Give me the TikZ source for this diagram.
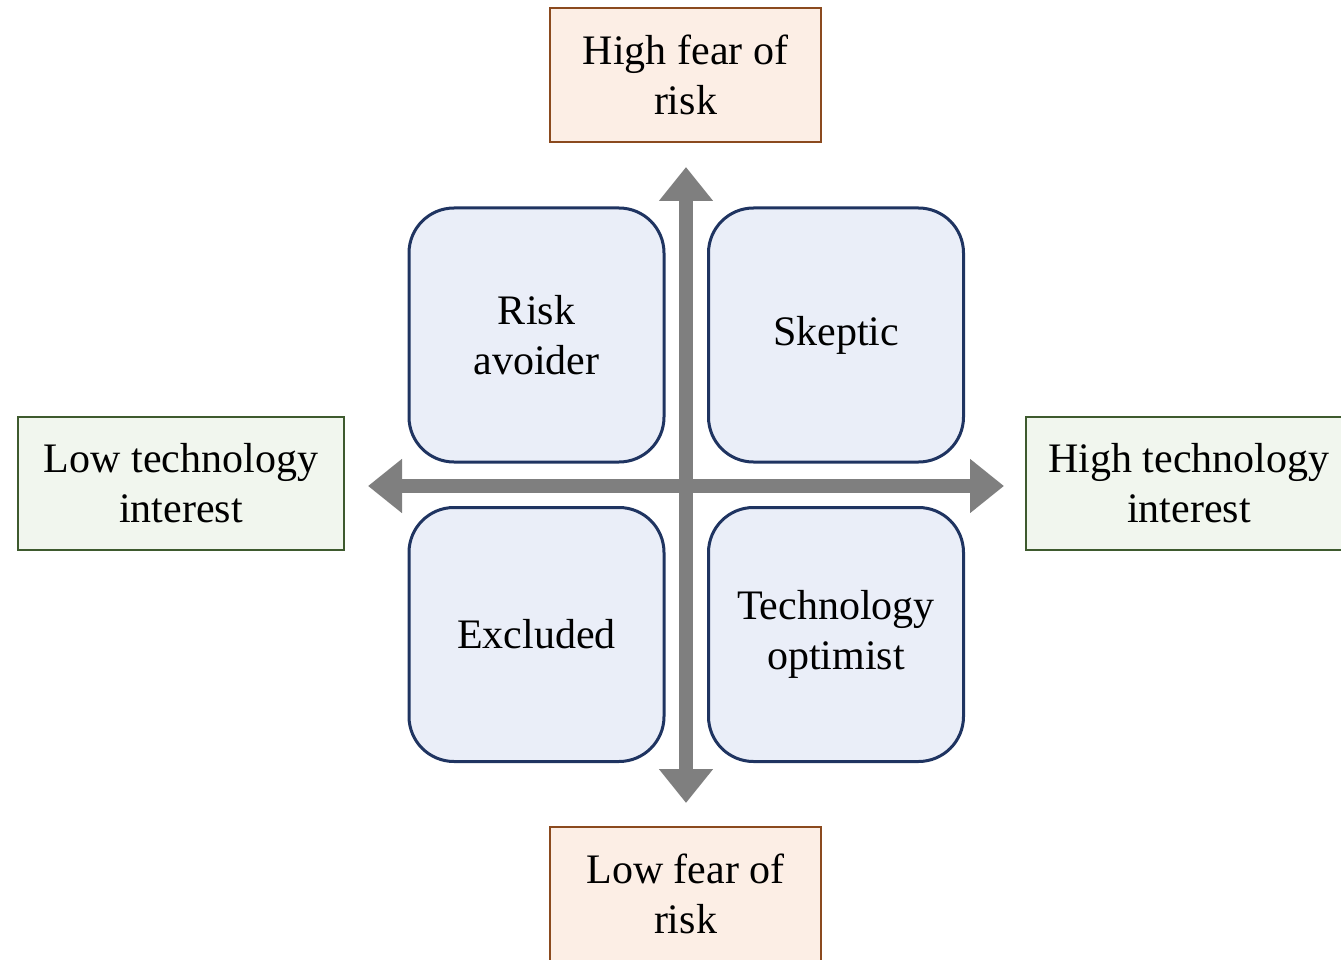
\documentclass[tikz,border=0pt]{standalone}
\usepackage{fontspec}
\setmainfont{Liberation Serif}
\usetikzlibrary{arrows.meta}
\definecolor{peachfill}{HTML}{FCEEE5}
\definecolor{peachline}{HTML}{8B4A1E}
\definecolor{greenfill}{HTML}{F1F6EE}
\definecolor{greenline}{HTML}{3E5A2E}
\definecolor{quadfill}{HTML}{EAEEF8}
\definecolor{quadline}{HTML}{1F3461}
\definecolor{axisgray}{HTML}{7F7F7F}
\begin{document}
\begin{tikzpicture}[x=1pt,y=-1pt,
  every node/.style={inner sep=0pt, align=center, font=\fontsize{42}{50}\selectfont},
  fearbox/.style={draw=peachline, fill=peachfill, line width=2pt, minimum width=271pt, minimum height=134pt},
  techbox/.style={draw=greenline, fill=greenfill, line width=2pt, minimum width=326pt, minimum height=133pt},
  quadbox/.style={draw=quadline, fill=quadfill, line width=3pt, rounded corners=45pt, minimum width=255pt, minimum height=254pt},
  axis/.style={draw=axisgray, line width=14pt, {Triangle[length=34pt,width=52pt]}-{Triangle[length=34pt,width=52pt]}}
]
\useasboundingbox (0,0) rectangle (1341,960);
\node[fearbox] (high) at (685.5,75) {High fear of\\risk};
\node[fearbox] (low) at (685.5,894) {Low fear of\\risk};
\node[techbox] (lowtech) at (181,483.5) {Low technology\\interest};
\node[techbox] (hightech) at (1189,483.5) {High technology\\interest};
\node[quadbox] (ra) at (536.5,335) {Risk\\avoider};
\node[quadbox] (sk) at (836,335) {Skeptic};
\node[quadbox] (ex) at (536.5,634.5) {Excluded};
\node[quadbox] (to) at (836,634.5) {Technology\\optimist};
\coordinate (vt) at (686,167);
\coordinate (vb) at (686,803);
\coordinate (hl) at (368,486);
\coordinate (hr) at (1004,486);
\draw[axis] (vb) -- (vt);
\draw[axis] (hl) -- (hr);
\end{tikzpicture}
\end{document}
